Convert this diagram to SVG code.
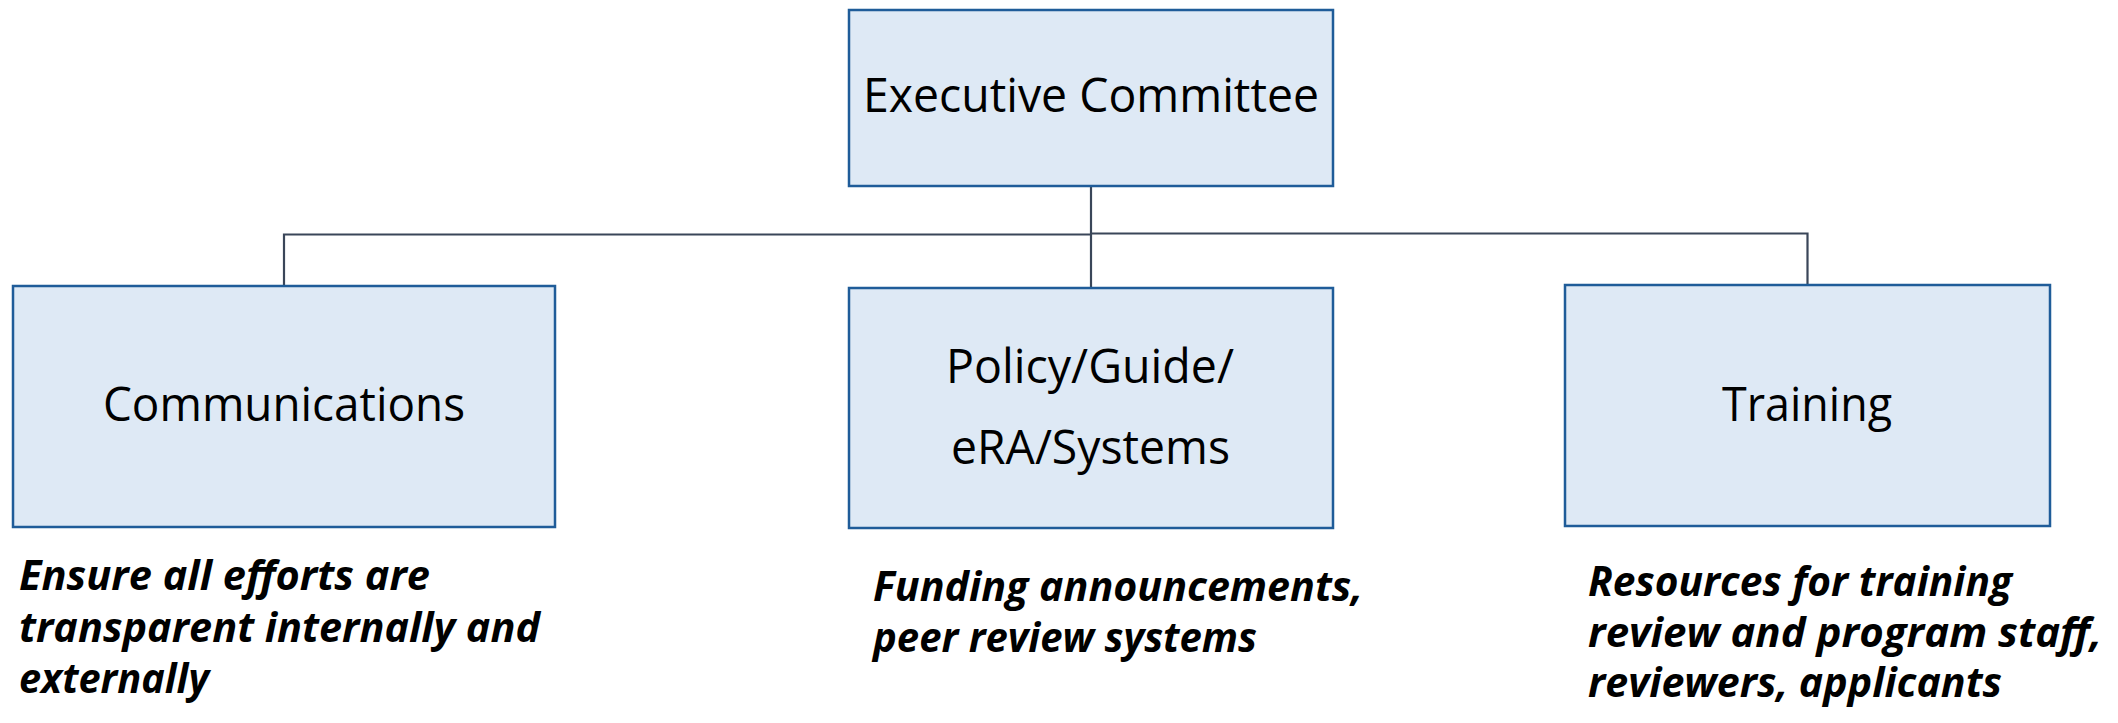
<svg xmlns="http://www.w3.org/2000/svg" width="2118" height="723" viewBox="0 0 2118 723">
<style>
.box{fill:#DEE9F5;stroke:#1F5C99;stroke-width:2.5}
.lbl{font-family:"Open Sans","Noto Sans","Liberation Sans",sans-serif;font-size:47px;fill:#000}
.cap{font-family:"Open Sans","Noto Sans","Liberation Sans",sans-serif;font-size:42px;font-weight:bold;font-style:italic;fill:#000}
.conn{fill:none;stroke:#3A4659;stroke-width:2.2}
</style>
<rect width="2118" height="723" fill="#fff"/>
<g id="connectors">
<path class="conn" d="M1091,186 V287"/>
<path class="conn" d="M284,286 V234.5 H1091"/>
<path class="conn" d="M1091,233.5 H1807.5 V285"/>
</g>
<g id="exec">
<rect class="box" x="849" y="10" width="484" height="176"/>
<text class="lbl" x="863" y="112" textLength="456" lengthAdjust="spacingAndGlyphs">Executive Committee</text>
</g>
<g id="communications">
<rect class="box" x="13" y="286" width="542" height="241"/>
<text class="lbl" x="103" y="421" textLength="362" lengthAdjust="spacingAndGlyphs">Communications</text>
</g>
<g id="policy">
<rect class="box" x="849" y="288" width="484" height="240"/>
<text class="lbl" x="946" y="383" textLength="288" lengthAdjust="spacingAndGlyphs">Policy/Guide/</text>
<text class="lbl" x="951" y="464" textLength="279" lengthAdjust="spacingAndGlyphs">eRA/Systems</text>
</g>
<g id="training">
<rect class="box" x="1565" y="285" width="485" height="241"/>
<text class="lbl" x="1722" y="421" textLength="170" lengthAdjust="spacingAndGlyphs">Training</text>
</g>
<g id="comm-caption">
<text class="cap" x="19" y="590" textLength="411" lengthAdjust="spacingAndGlyphs">Ensure all efforts are</text>
<text class="cap" x="19" y="642" textLength="521" lengthAdjust="spacingAndGlyphs">transparent internally and</text>
<text class="cap" x="19" y="693" textLength="190" lengthAdjust="spacingAndGlyphs">externally</text>
</g>
<g id="policy-caption">
<text class="cap" x="873" y="601" textLength="490" lengthAdjust="spacingAndGlyphs">Funding announcements,</text>
<text class="cap" x="873" y="652" textLength="384" lengthAdjust="spacingAndGlyphs">peer review systems</text>
</g>
<g id="training-caption">
<text class="cap" x="1588" y="596" textLength="424" lengthAdjust="spacingAndGlyphs">Resources for training</text>
<text class="cap" x="1588" y="647" textLength="514" lengthAdjust="spacingAndGlyphs">review and program staff,</text>
<text class="cap" x="1588" y="697" textLength="414" lengthAdjust="spacingAndGlyphs">reviewers, applicants</text>
</g>
</svg>
